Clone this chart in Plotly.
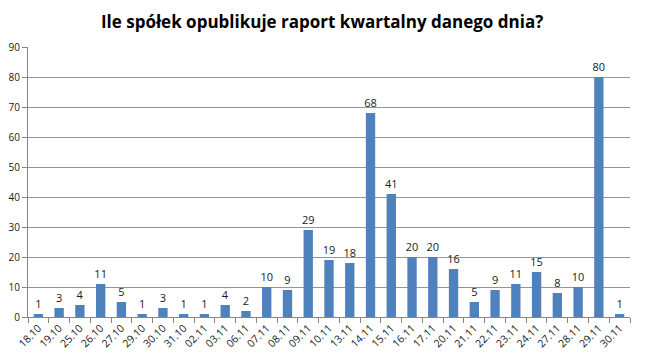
import plotly.graph_objects as go

categories = ["18.10", "19.10", "25.10", "26.10", "27.10", "29.10", "30.10", "31.10",
              "02.11", "03.11", "06.11", "07.11", "08.11", "09.11", "10.11", "13.11",
              "14.11", "15.11", "16.11", "17.11", "20.11", "21.11", "22.11", "23.11",
              "24.11", "27.11", "28.11", "29.11", "30.11"]
values = [1, 3, 4, 11, 5, 1, 3, 1, 1, 4, 2, 10, 9, 29, 19, 18, 68, 41, 20, 20, 16,
          5, 9, 11, 15, 8, 10, 80, 1]
title_text = "Ile spółek opublikuje raport kwartalny danego dnia?"

fig = go.Figure(go.Bar(
    x=categories, y=values,
    marker=dict(color="#4F81BD", line=dict(width=0)),
    text=[str(v) for v in values], textposition="outside",
    textfont=dict(family="Open Sans", size=11, color="#1a1a1a"),
    cliponaxis=False,
))

fig.update_layout(
    width=645, height=360,
    paper_bgcolor="white", plot_bgcolor="white",
    margin=dict(l=20, r=23, t=39, b=51, autoexpand=False),
    bargap=0.55,
    showlegend=False,
    uniformtext=dict(minsize=11, mode="show"),
    title=dict(text="<b>" + title_text + "</b>", x=0.487, xanchor="center", y=0.96, yanchor="middle",
               font=dict(family="Open Sans", size=17, color="#000000")),
    font=dict(family="Open Sans", size=10, color="#1a1a1a"),
)
fig.update_xaxes(
    type="category", tickson="boundaries", ticks="outside", ticklen=5,
    tickcolor="#868686", showline=True, linecolor="#868686", linewidth=1,
    showgrid=False, tickangle=-45, tickfont=dict(size=10.5, color="#1a1a1a"),
    automargin=False,
)
fig.update_yaxes(
    range=[0, 90], dtick=10, ticks="outside", ticklen=5, tickcolor="#868686",
    showline=True, linecolor="#868686", linewidth=1,
    showgrid=True, gridcolor="#959595", gridwidth=1, zeroline=False,
    tickfont=dict(size=10, color="#1a1a1a"), automargin=False,
)

fig.write_html("out.html")
